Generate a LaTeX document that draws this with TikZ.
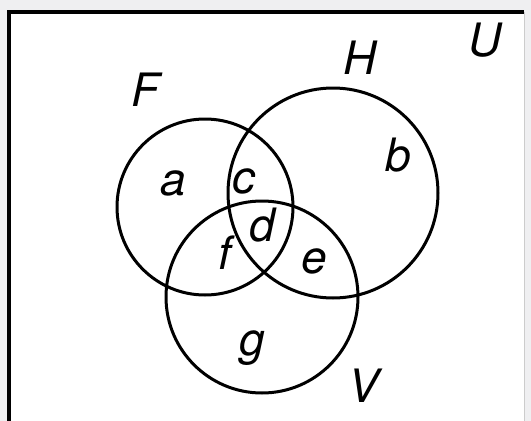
\documentclass[tikz,border=0pt]{standalone}
\usepackage{fontspec}
\setmainfont{TeX Gyre Heros}
\begin{document}
\begin{tikzpicture}[x=1pt,y=-1pt,
  setline/.style={line width=3pt,black},
  lbl/.style={font=\fontsize{46}{46}\selectfont\itshape,inner sep=0pt}]
\useasboundingbox (0,0) rectangle (531,421);
\fill[blue!6!gray!12] (0,0) rectangle (531,421);
\fill[white] (9,12) rectangle (524,421);
\draw[line width=4pt] (9,421) -- (9,12) -- (524,12);
\draw[line width=1pt,gray!40] (524,12) -- (524,421);
% circles
\node[setline,draw,circle,minimum size=176pt,inner sep=0pt] (F) at (205,207) {};
\node[setline,draw,circle,minimum size=210pt,inner sep=0pt] (H) at (333,193) {};
\node[setline,draw,circle,minimum size=192pt,inner sep=0pt] (V) at (262,297) {};
% labels
\node[lbl] (lF) at (146,90) {F};
\node[lbl] (lH) at (360,58) {H};
\node[lbl] (lU) at (485,40) {U};
\node[lbl] (la) at (173,183) {a};
\node[lbl] (lb) at (398,155) {b};
\node[lbl] (lc) at (244,181) {c};
\node[lbl] (ld) at (262,225) {d};
\node[lbl] (le) at (314,261) {e};
\node[lbl] (lf) at (225,253) {f};
\node[lbl] (lg) at (252,348) {g};
\node[lbl] (lV) at (364,386) {V};
\end{tikzpicture}
\end{document}
